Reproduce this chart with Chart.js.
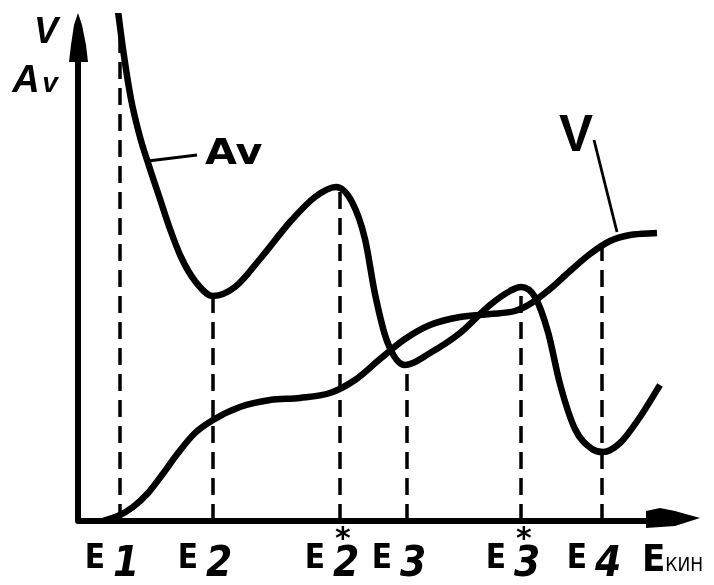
<!DOCTYPE html>
<html>
<head>
<meta charset="utf-8">
<script src="https://cdn.jsdelivr.net/npm/chart.js@4.4.1/dist/chart.umd.min.js"></script>
<style>
  html, body { margin: 0; padding: 0; background: #fff; }
  #wrap { position: relative; width: 714px; height: 585px; }
</style>
</head>
<body>
<div id="wrap"><canvas id="chart" width="714" height="585"></canvas></div>
<script>
// curve Av (relative units along the axes)
var avPoints = [
  [40, 510], [45, 472], [53, 422], [62, 384], [72, 352], [82, 322], [92, 292],
  [103, 264], [117, 240], [135, 225], [157, 234], [182, 262], [212, 299],
  [237, 324], [258, 334], [274, 319], [287, 282], [297, 227], [309, 180],
  [327, 156], [352, 168], [382, 188], [412, 216], [432, 230], [443, 234],
  [457, 224], [470, 189], [482, 137], [497, 92], [514, 72], [525, 69],
  [542, 78], [562, 104], [582, 136]
];
// curve V
var vPoints = [
  [25, 0], [40, 5], [55, 14], [70, 28], [84, 46], [100, 68], [117, 88],
  [135, 101], [162, 114], [192, 121], [222, 123], [252, 128], [277, 141],
  [302, 162], [327, 182], [352, 196], [382, 204], [412, 207], [437, 210],
  [452, 217], [472, 232], [492, 250], [512, 267], [532, 280], [552, 286],
  [579, 288]
];
// dashed markers on the energy axis
var markerX = [42, 135, 262, 329, 443, 524];
var markerTop = [502, 225, 332, 156, 232, 276];
var markerSub = ['1', '2', '2', '3', '3', '4'];
var markerStar = [false, false, true, false, true, false];
// leader lines for the curve labels
var avLeader = [[70, 360], [119, 366]];
var vLeader = [[516, 381], [539, 289]];

function toXY(arr) {
  return arr.map(function(p) { return { x: p[0], y: p[1] }; });
}

var datasets = [];
datasets.push({
  label: 'Av', data: toXY(avPoints), borderColor: '#000', borderWidth: 6.5,
  pointRadius: 0, cubicInterpolationMode: 'monotone', fill: false
});
datasets.push({
  label: 'V', data: toXY(vPoints), borderColor: '#000', borderWidth: 6.5,
  pointRadius: 0, cubicInterpolationMode: 'monotone', fill: false
});
markerX.forEach(function(x, i) {
  datasets.push({
    label: 'E' + markerSub[i], data: [{ x: x, y: 0 }, { x: x, y: markerTop[i] }],
    borderColor: '#000', borderWidth: 3.5, borderDash: [17, 9], pointRadius: 0
  });
});
[avLeader, vLeader].forEach(function(l) {
  datasets.push({
    label: 'leader', data: toXY(l), borderColor: '#000', borderWidth: 2.8, pointRadius: 0
  });
});

var narrow = '"Liberation Sans Narrow", "DejaVu Sans Condensed", sans-serif';

// axes, arrows and text
var decor = {
  id: 'decor',
  afterDatasetsDraw: function(chart) {
    var c = chart.ctx, xs = chart.scales.x, ys = chart.scales.y;
    var x0 = xs.getPixelForValue(0), y0 = ys.getPixelForValue(0);
    var yTop = ys.getPixelForValue(ys.max), xEnd = xs.getPixelForValue(xs.max);
    c.save();
    c.fillStyle = '#000';
    c.strokeStyle = '#000';
    c.lineWidth = 6;
    c.lineCap = 'round';
    c.beginPath();
    c.moveTo(x0, y0); c.lineTo(x0, yTop + 40);
    c.moveTo(x0, y0); c.lineTo(xEnd - 40, y0);
    c.stroke();
    // y arrow
    c.beginPath();
    c.moveTo(x0, yTop);
    c.lineTo(x0 + 4, yTop + 12);
    c.lineTo(x0 + 8, yTop + 32);
    c.lineTo(x0 + 10, yTop + 49);
    c.lineTo(x0 - 9, yTop + 49);
    c.lineTo(x0 - 7, yTop + 32);
    c.lineTo(x0 - 4, yTop + 12);
    c.closePath(); c.fill();
    // x arrow
    c.beginPath();
    c.moveTo(xEnd, y0 - 3);
    c.lineTo(xEnd - 25, y0 - 10);
    c.lineTo(xEnd - 40, y0 - 13);
    c.lineTo(xEnd - 54, y0 - 10);
    c.lineTo(xEnd - 54, y0 + 7);
    c.lineTo(xEnd - 25, y0 + 5);
    c.closePath(); c.fill();

    c.textBaseline = 'alphabetic';
    // marker labels
    markerX.forEach(function(x, i) {
      var px = xs.getPixelForValue(x);
      c.font = 'bold 33px ' + narrow;
      c.textAlign = 'right';
      c.fillText('E', px - 15, y0 + 47);
      c.font = 'italic bold 42px ' + narrow;
      c.textAlign = 'left';
      c.fillText(markerSub[i], px - 7, y0 + 55);
      if (markerStar[i]) {
        c.font = 'bold 30px "DejaVu Sans", sans-serif';
        c.fillText('*', px - 5, y0 + 27);
      }
    });
    // E kin
    var ek = xEnd - 58;
    c.font = 'bold 38px ' + narrow;
    c.textAlign = 'left';
    c.fillText('E', ek, y0 + 50);
    var ew = c.measureText('E').width;
    c.font = '19px ' + narrow;
    c.fillText('КИН', ek + ew, y0 + 50);

    // curve labels
    c.save();
    c.translate(xs.getPixelForValue(127), ys.getPixelForValue(357));
    c.scale(1.18, 1);
    c.font = 'bold 35px "DejaVu Sans", sans-serif';
    c.fillText('Av', 0, 0);
    c.restore();
    c.font = 'bold 51px "Liberation Sans", Arial, sans-serif';
    c.fillText('V', xs.getPixelForValue(481), ys.getPixelForValue(370));

    // y axis labels
    c.textAlign = 'center';
    c.font = 'italic bold 36px "Liberation Sans", Arial, sans-serif';
    c.fillText('V', x0 - 32, yTop + 30);
    c.font = 'italic bold 38px "Liberation Sans", Arial, sans-serif';
    c.fillText('A', x0 - 52, yTop + 79);
    c.font = 'italic bold 28px "Liberation Sans", Arial, sans-serif';
    c.fillText('v', x0 - 28, yTop + 79);
    c.restore();
  }
};

new Chart(document.getElementById('chart').getContext('2d'), {
  type: 'line',
  data: { datasets: datasets },
  options: {
    responsive: false,
    animation: false,
    layout: { padding: { left: 78, right: 14, top: 13, bottom: 64 } },
    plugins: { legend: { display: false }, tooltip: { enabled: false } },
    scales: {
      x: { type: 'linear', min: 0, max: 622, display: false },
      y: { type: 'linear', min: 0, max: 508, display: false }
    }
  },
  plugins: [decor]
});
</script>
</body>
</html>
